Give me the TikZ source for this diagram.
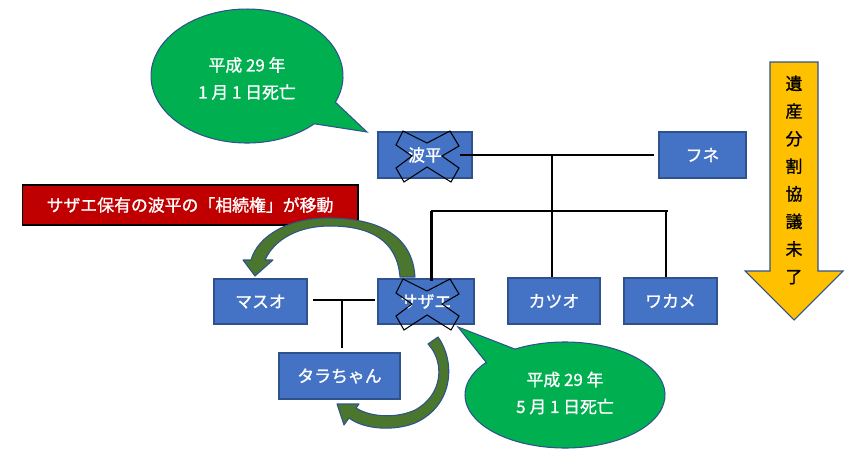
\documentclass[tikz,border=0pt]{standalone}
\usepackage{fontspec}
\setmainfont{Noto Sans CJK JP}
\newfontfamily\jbold{Noto Sans CJK JP}[FakeBold=1.2]
\usetikzlibrary{calc}
\definecolor{boxblue}{HTML}{4472C4}
\definecolor{boxborder}{HTML}{2F528F}
\definecolor{calloutgreen}{HTML}{00B050}
\definecolor{labelred}{HTML}{C00000}
\definecolor{arrowgreen}{HTML}{4A772D}
\definecolor{arrowyellow}{HTML}{FFC000}
\newcommand\jf{\jbold\fontsize{9.6}{12}\selectfont}
\tikzset{
  box/.style={draw=boxborder, fill=boxblue, line width=1pt, text=white, font=\jf, inner sep=0pt, minimum height=0.92cm},
  famline/.style={line width=1.1pt, black},
  callout/.style={draw=boxborder, fill=calloutgreen, line width=0.6pt},
  calltext/.style={text=white, align=center, font=\jbold\fontsize{9.6}{15.4}\selectfont},
  curvedarrow/.style={draw=boxborder, fill=arrowgreen, line width=0.6pt, line join=round},
  crossmark/.pic={\draw[black, line width=0.6pt, line join=miter]
     (0,-13) -- (23,-25) -- (32,-10) -- (15,0) -- (32,12) -- (24,26) -- (0,11)
     -- (-23,26) -- (-31,12) -- (-15,0) -- (-31,-11) -- (-24,-25) -- cycle;}
}
\begin{document}
\begin{tikzpicture}[x=0.02cm, y=-0.02cm]
\useasboundingbox (0,0) rectangle (851,460);

% callouts
\draw[callout] (335.4,102.2) -- (367,132) -- (314.3,123.8)
  arc[start angle=45.5, end angle=383, x radius=96, y radius=67] -- cycle;
\node[calltext] (c1t) at (247,78.5) {平成 29 年\\1 月 1 日死亡};

\draw[callout] (486.2,362.4) -- (458,327) -- (515,349.1)
  arc[start angle=240, end angle=578, x radius=100, y radius=53] -- cycle;
\node[calltext] (c2t) at (565,393) {平成 29 年\\5 月 1 日死亡};

% family boxes
\node[box, minimum width=1.88cm] (namihei) at (425,155) {波平};
\node[box, minimum width=1.74cm] (fune) at (702.5,155) {フネ};
\node[box, minimum width=1.86cm, minimum height=0.9cm] (masuo) at (260.5,301.5) {マスオ};
\node[box, minimum width=1.92cm, minimum height=0.9cm] (sazae) at (426,301.5) {サザエ};
\node[box, minimum width=1.84cm] (katsuo) at (554,301) {カツオ};
\node[box, minimum width=1.86cm] (wakame) at (670.5,301) {ワカメ};
\node[box, minimum width=2.42cm] (tara) at (339.5,376) {タラちゃん};

% family lines
\coordinate (j1) at (552,155);
\coordinate (hl) at (431,211);
\coordinate (hr) at (668,211);
\coordinate (hw) at (666,211);
\coordinate (jm) at (342,300);
\draw[famline] ($(namihei.east)+(-13,0)$) -- ($(fune.west)+(-4,0)$);
\draw[famline] (j1) -- (j1 |- katsuo.north);
\draw[famline] (hl) -- (hr);
\draw[famline, line width=1.7pt] (hl) -- ($(hl |- sazae.north)+(0,3)$);
\draw[famline] (hw) -- (hw |- wakame.north);
\draw[famline] ($(masuo.east)+(5,-1.5)$) -- ($(sazae.west)+(-2,-1.5)$);
\draw[famline] (jm) -- ($(jm |- tara.north)+(0,-4)$);

% crosses
\pic at (427,156) {crossmark};
\pic at (427,304) {crossmark};

% red label
\node[draw=black, fill=labelred, text=white, font=\jf, line width=0.6pt, inner sep=0pt,
      minimum width=6.72cm, minimum height=0.8cm] (label) at (190,205) {サザエ保有の波平の「相続権」が移動};

% curved arrow sazae -> masuo
\draw[curvedarrow] (415,277) .. controls (412,225) and (360,218) .. (327,218)
  .. controls (290,218) and (258,235) .. (251,260) -- (243,260) -- (255,276) -- (273,260) -- (265,260)
  .. controls (275,238) and (300,226) .. (330,226)
  .. controls (370,226) and (397,240) .. (400,277) -- cycle;

% curved arrow sazae -> tara
\draw[curvedarrow] (438,337) .. controls (455,360) and (455,405) .. (415,423)
  .. controls (395,431) and (365,430) .. (349,418) -- (344,425) -- (337,404) -- (359,404) -- (356,408)
  .. controls (372,418) and (398,418) .. (415,410)
  .. controls (443,395) and (445,362) .. (428,344) -- cycle;

% yellow arrow
\draw[draw=boxborder, fill=arrowyellow, line width=0.6pt]
  (770,62) -- (818,62) -- (818,271) -- (843,271) -- (794,320) -- (745,271) -- (770,271) -- cycle;
\node[align=center, font=\jbold\fontsize{9.6}{15.7}\selectfont] (ytext) at (794,180)
  {遺\\産\\分\\割\\協\\議\\未\\了};
\end{tikzpicture}
\end{document}
